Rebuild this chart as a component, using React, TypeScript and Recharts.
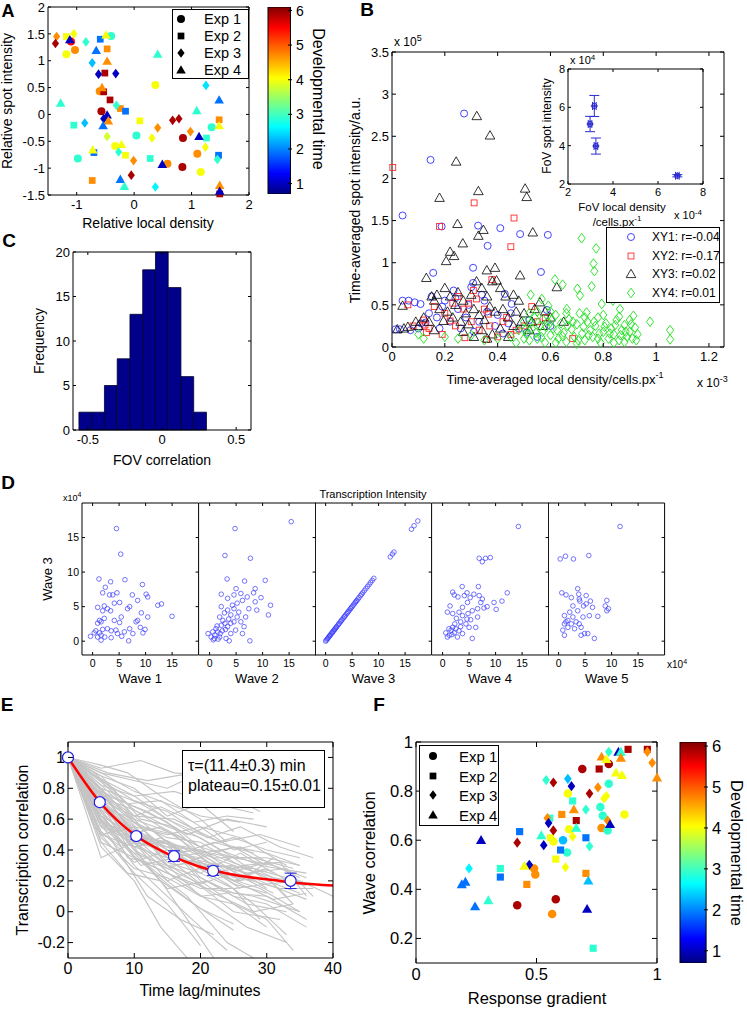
import React from "react";
import { ComposedChart, Scatter, Line, Bar, XAxis, YAxis, ErrorBar } from "recharts";

const FONT = '"Liberation Sans", Arial, Helvetica, sans-serif';
const GAP = 3;

// ─── Colour scale (jet) ──────────────────────────────────────────────────────
const C_MIN = 0.7;
const C_MAX = 6.1;
const CBAR_TICKS = [1, 2, 3, 4, 5, 6];
const JET_STOPS: [number, string][] = [
  [0, "#000080"],
  [0.11, "#0000ff"],
  [0.36, "#00ffff"],
  [0.62, "#ffff00"],
  [0.89, "#ff0000"],
  [1, "#800000"],
];

// ─── Panel A: [relative density, relative intensity, developmental time] ────
const A_X_TICKS = [-1, 0, 1, 2];
const A_Y_TICKS = [-1.5, -1, -0.5, 0, 0.5, 1, 1.5, 2];
const A_EXP1 = [
  [-1.1, 1.36, 5.5], [-1.03, 1.2, 4.7], [-1.18, 1.12, 4.0], [-0.4, 1.46, 2.9], [-0.6, 0.43, 4.7],
  [-0.57, 0.06, 5.9], [0.04, -0.39, 2.9], [0.37, 0.55, 4.0], [0.85, -0.44, 5.9], [1.35, -0.24, 2.9],
  [-0.33, -0.59, 4.0], [-0.98, -0.82, 2.9], [0.58, -0.92, 4.7], [0.84, -0.98, 5.9], [1.1, -0.73, 4.7],
  [1.16, -1.07, 4.0],
];
const A_EXP2 = [
  [-1.18, 1.45, 4.0], [-0.59, 1.4, 1.9], [-0.47, 1.22, 4.7], [-0.51, 0.77, 5.9], [-0.53, 0.42, 5.9],
  [-0.42, 0.27, 5.9], [-0.24, 0.11, 4.7], [-0.15, 0.06, 1.9], [-1.05, -0.2, 2.9], [0.1, -0.12, 4.0],
  [1.48, -0.1, 4.7], [1.26, -0.44, 2.9], [-0.7, -0.71, 1.9], [-0.15, -0.76, 4.0], [0.28, -0.82, 2.9],
  [1.47, -0.76, 1.9], [-0.73, -1.23, 4.7], [1.49, -1.48, 5.9],
];
const A_EXP3 = [
  [-1.35, 1.45, 4.7], [-1.37, 1.32, 5.9], [-1.05, 1.5, 4.0], [-0.84, 1.35, 2.9], [-0.73, 0.96, 2.3],
  [-0.62, 0.75, 1.0], [-0.32, 0.76, 1.0], [-0.31, 0.17, 2.9], [-0.53, -0.08, 1.0], [-0.86, -0.16, 2.3],
  [-0.47, -0.41, 3.8], [1.25, 0.54, 2.5], [0.67, -0.11, 5.9], [0.78, -0.08, 5.9], [0.41, -0.25, 4.7],
  [0.98, -0.32, 4.7], [0.31, -0.44, 4.0], [1.24, -0.61, 4.0], [-0.27, -0.7, 2.9], [-0.01, -0.86, 4.7],
  [1.45, -0.84, 2.9], [-0.05, -1.13, 5.9], [0.37, -1.35, 2.6],
];
const A_EXP4 = [
  [-1.12, 1.39, 1.0], [-0.49, 1.48, 4.0], [-0.66, 1.19, 1.9], [-0.47, 0.99, 4.7], [-0.56, 0.5, 4.7],
  [-1.28, 0.21, 2.9], [-0.47, -0.01, 1.0], [-0.45, -0.12, 4.7], [-0.54, -0.21, 1.9], [0.41, 1.12, 2.9],
  [1.09, 0.07, 2.9], [1.48, 0.27, 1.9], [1.13, -0.41, 1.0], [1.48, -0.21, 4.0], [-0.22, -0.56, 4.0],
  [-0.72, -0.66, 4.0], [0.49, -0.93, 1.0], [-0.24, -1.21, 1.9], [-0.17, -1.34, 2.9], [1.49, -1.32, 4.7],
  [1.49, -1.43, 1.0],
];

// ─── Panel B: [local density x1e-3, spot intensity x1e5] ────────────────────
const B_X_TICKS = [0, 0.2, 0.4, 0.6, 0.8, 1, 1.2];
const B_Y_TICKS = [0, 0.5, 1, 1.5, 2, 2.5, 3, 3.5];
const B_LEGEND = ["XY1: r=-0.04", "XY2: r=-0.17", "XY3: r=0.02", "XY4: r=0.01"];
const B_XY1 = [
  [0.273, 2.77], [0.146, 2.22], [0.04, 1.56], [0.326, 1.44], [0.41, 1.41], [0.485, 1.34], [0.59, 1.33],
  [0.362, 1.2], [0.188, 1.43], [0.307, 0.94], [0.564, 0.89], [0.156, 0.88], [0.04, 0.55], [0.063, 0.55],
  [0.086, 0.53], [0.108, 0.51], [0.013, 0.21], [0.03, 0.21], [0.15, 0.6], [0.127, 0.29], [0.11, 0.28],
  [0.586, 0.44], [0.453, 0.51], [0.427, 0.63], [0.307, 0.76], [0.42, 0.16], [0.51, 0.17], [0.233, 0.67],
  [0.3, 0.71], [0.2, 0.55], [0.25, 0.45], [0.28, 0.35], [0.33, 0.3], [0.36, 0.42], [0.39, 0.25],
  [0.18, 0.22], [0.22, 0.3], [0.14, 0.4], [0.17, 0.35], [0.26, 0.22], [0.31, 0.18], [0.35, 0.55],
  [0.4, 0.38], [0.44, 0.28], [0.48, 0.22], [0.52, 0.32], [0.55, 0.12], [0.24, 0.58], [0.19, 0.48],
  [0.1, 0.22], [0.07, 0.2], [0.34, 0.62], [0.29, 0.5], [0.45, 0.4], [0.6, 0.25],
];
const B_XY2 = [
  [0.003, 2.13], [0.18, 1.43], [0.311, 1.71], [0.462, 1.53], [0.45, 1.19], [0.378, 0.8], [0.529, 0.48],
  [0.684, 0.1], [0.308, 0.67], [0.32, 0.57], [0.365, 0.39], [0.276, 0.11], [0.358, 0.09], [0.434, 0.35],
  [0.22, 0.31], [0.55, 0.3], [0.12, 0.32], [0.125, 0.26], [0.13, 0.17], [0.16, 0.48], [0.2, 0.4],
  [0.24, 0.25], [0.27, 0.45], [0.3, 0.3], [0.33, 0.2], [0.37, 0.25], [0.4, 0.12], [0.42, 0.3],
  [0.47, 0.2], [0.5, 0.25], [0.25, 0.6], [0.29, 0.52], [0.14, 0.22], [0.19, 0.15], [0.23, 0.52],
  [0.35, 0.45], [0.08, 0.25], [0.45, 0.15], [0.58, 0.35], [0.06, 0.5],
];
const B_XY3 = [
  [0.321, 2.74], [0.371, 2.51], [0.243, 2.2], [0.327, 1.85], [0.504, 1.88], [0.51, 1.78], [0.18, 1.77],
  [0.248, 1.46], [0.346, 1.39], [0.327, 1.32], [0.533, 1.36], [0.268, 1.23], [0.22, 1.13], [0.235, 1.08],
  [0.205, 1.02], [0.39, 0.94], [0.485, 0.85], [0.624, 0.71], [0.396, 0.79], [0.359, 0.91], [0.195, 0.31],
  [0.56, 0.53], [0.13, 0.82], [0.04, 0.49], [0.02, 0.21], [0.045, 0.22], [0.1, 0.25], [0.15, 0.6],
  [0.16, 0.55], [0.17, 0.62], [0.2, 0.7], [0.22, 0.6], [0.25, 0.65], [0.27, 0.55], [0.3, 0.62],
  [0.32, 0.78], [0.34, 0.7], [0.36, 0.6], [0.38, 0.78], [0.41, 0.7], [0.43, 0.6], [0.46, 0.62],
  [0.48, 0.55], [0.5, 0.4], [0.53, 0.3], [0.57, 0.25], [0.6, 0.35], [0.21, 0.42], [0.23, 0.35],
  [0.26, 0.3], [0.28, 0.4], [0.31, 0.45], [0.33, 0.38], [0.35, 0.32], [0.37, 0.48], [0.39, 0.42],
  [0.42, 0.45], [0.44, 0.35], [0.47, 0.42], [0.49, 0.3], [0.12, 0.35], [0.14, 0.3], [0.18, 0.45],
  [0.24, 0.5], [0.29, 0.27], [0.34, 0.2], [0.38, 0.15], [0.41, 0.22], [0.46, 0.25], [0.52, 0.2],
  [0.06, 0.24], [0.09, 0.3], [0.16, 0.2], [0.27, 0.18], [0.31, 0.12], [0.36, 0.1], [0.44, 0.12],
  [0.54, 0.45], [0.58, 0.42], [0.65, 0.3],
];
const B_XY4 = [
  [0.718, 1.29], [0.773, 1.17], [0.763, 0.99], [0.766, 0.9], [0.617, 0.8], [0.646, 0.74], [0.756, 0.72],
  [0.702, 0.69], [0.712, 0.61], [0.794, 0.51], [0.836, 0.55], [0.863, 0.45], [0.914, 0.37], [0.977, 0.3],
  [1.053, 0.2], [1.053, 0.09], [0.525, 0.62], [0.567, 0.57], [0.592, 0.49], [0.662, 0.45], [0.737, 0.41],
  [0.1, 0.15], [0.12, 0.1], [0.2, 0.12], [0.25, 0.1], [0.3, 0.14], [0.35, 0.08], [0.4, 0.1], [0.45, 0.12],
  [0.48, 0.2], [0.5, 0.3], [0.51, 0.15], [0.52, 0.08], [0.53, 0.22], [0.54, 0.35], [0.55, 0.1],
  [0.56, 0.25], [0.57, 0.18], [0.58, 0.05], [0.59, 0.3], [0.6, 0.14], [0.61, 0.22], [0.62, 0.38],
  [0.63, 0.1], [0.64, 0.28], [0.65, 0.17], [0.66, 0.06], [0.67, 0.33], [0.68, 0.21], [0.69, 0.12],
  [0.7, 0.27], [0.71, 0.4], [0.72, 0.16], [0.73, 0.08], [0.74, 0.3], [0.75, 0.2], [0.76, 0.12],
  [0.77, 0.25], [0.78, 0.35], [0.79, 0.05], [0.8, 0.18], [0.81, 0.28], [0.82, 0.1], [0.83, 0.22],
  [0.84, 0.15], [0.85, 0.32], [0.86, 0.08], [0.87, 0.2], [0.88, 0.26], [0.89, 0.12], [0.9, 0.18],
  [0.91, 0.1], [0.92, 0.23], [0.93, 0.15], [0.505, 0.2], [0.525, 0.28], [0.545, 0.17], [0.565, 0.12],
  [0.585, 0.24], [0.605, 0.32], [0.625, 0.2], [0.645, 0.13], [0.665, 0.25], [0.685, 0.3], [0.705, 0.08],
  [0.725, 0.24], [0.745, 0.14], [0.765, 0.3], [0.785, 0.16], [0.805, 0.24], [0.825, 0.16], [0.845, 0.26],
  [0.865, 0.14], [0.885, 0.18], [0.905, 0.27], [0.925, 0.08], [0.62, 0.05], [0.7, 0.04], [0.78, 0.1],
  [0.84, 0.05], [0.88, 0.06], [0.6, 0.42], [0.66, 0.4], [0.73, 0.35], [0.8, 0.38], [0.86, 0.36],
  [0.9, 0.32], [0.55, 0.42], [0.5, 0.1], [0.47, 0.05], [0.52, 0.4], [0.57, 0.33],
];
// inset: [density x1e-4, intensity x1e4, x error, y error]
const B_INSET_TICKS = [2, 4, 6, 8];
const B_INSET = [
  [2.98, 5.13, 0.08, 0.4],
  [3.17, 6.07, 0.08, 0.55],
  [3.24, 3.98, 0.08, 0.42],
  [6.86, 2.43, 0.08, 0.06],
];

// ─── Panel C: histogram of FOV correlation ──────────────────────────────────
const C_X_TICKS = [-0.5, 0, 0.5];
const C_Y_TICKS = [0, 5, 10, 15, 20];
const C_BIN_WIDTH = 0.086;
const C_BIN_CENTERS = [-0.517, -0.431, -0.345, -0.259, -0.173, -0.087, -0.001, 0.085, 0.171, 0.257];
const C_COUNTS = [2, 2, 5, 8, 13, 18, 20, 16, 6, 2];

// ─── Panel D: [wave n, wave 3] intensities x1e4 ─────────────────────────────
const D_TICKS = [0, 5, 10, 15];
const D_W1 = [
  [4.5, 16.3], [5.3, 12.6], [15, 3.6], [1.2, 9.0], [3.4, 8.6], [6.1, 8.9], [9.4, 8.2], [2.4, 7.8],
  [1.9, 7.0], [4.6, 7.0], [3.2, 6.7], [3.8, 6.7], [7.5, 6.7], [0.95, 4.9], [2.2, 5.1], [2.8, 4.7],
  [4.1, 5.5], [1.9, 4.4], [3.4, 4.4], [5.1, 5.6], [6.6, 4.7], [7.0, 5.0], [8.5, 5.9], [10.1, 6.8],
  [10.4, 6.4], [12.3, 5.2], [13.0, 5.4], [9.2, 4.1], [10.4, 3.5], [8.5, 3.0], [8.2, 2.8], [9.0, 2.0],
  [9.9, 1.7], [9.5, 1.2], [1.3, 3.0], [1.6, 2.8], [0.95, 2.6], [2.2, 3.3], [4.1, 3.0], [5.1, 2.7],
  [5.4, 3.5], [0.6, 1.5], [1.3, 1.2], [1.9, 1.7], [2.8, 1.8], [3.5, 1.5], [4.4, 1.6], [4.7, 1.1],
  [6.0, 1.35], [7.0, 1.8], [7.6, 1.1], [-0.4, 0.7], [0.3, 1.2], [0.95, 0.6], [1.6, 0.15], [1.6, 0.87],
  [2.3, 0.6], [3.5, 0.5], [6.8, 0.05], [5.5, 0.7],
];
const D_W2 = [
  [15.4, 17.3], [4.8, 16.3], [2.9, 12.4], [7.7, 12.0], [3.3, 9.0], [6.6, 8.7], [10.5, 8.8], [5.0, 7.6],
  [8.6, 7.6], [2.2, 6.8], [3.4, 6.2], [4.6, 6.7], [5.9, 6.9], [7.1, 6.4], [8.3, 7.0], [9.7, 6.3],
  [11.5, 5.2], [11.1, 3.8], [7.6, 0.05], [3.7, 0.05], [0.9, 0.4], [-0.3, 1.1], [0.3, 0.6], [1.5, 1.35],
  [2.2, 2.3], [2.5, 3.0], [2.8, 4.1], [4.0, 3.8], [4.6, 4.7], [5.2, 5.5], [6.2, 5.9], [7.4, 4.7],
  [8.9, 4.5], [8.6, 5.7], [5.9, 2.8], [6.5, 2.1], [6.2, 1.1], [4.9, 1.6], [4.0, 1.1], [3.4, 2.1],
  [3.1, 0.4], [1.9, 0.6], [1.2, 1.8], [0.6, 1.35], [4.6, 2.8], [5.2, 3.5], [4.0, 2.6], [6.8, 3.5],
  [1.9, 3.5], [2.2, 5.0], [3.4, 4.5], [1.0, 0.9], [1.6, 0.3], [2.4, 1.5], [2.9, 2.6], [3.6, 3.2],
  [4.3, 5.2], [5.5, 4.2], [1.4, 2.2], [2.0, 1.1], [3.0, 1.7], [0.7, 0.2],
];
const D_W3_LINE = [
  0, 0.15, 0.3, 0.4, 0.55, 0.7, 0.8, 0.9, 1.05, 1.2, 1.3, 1.45, 1.6, 1.7, 1.85, 2.0, 2.1, 2.3, 2.45,
  2.6, 2.8, 2.95, 3.1, 3.3, 3.5, 3.6, 3.8, 4.0, 4.15, 4.3, 4.5, 4.7, 4.85, 5.0, 5.2, 5.4, 5.6, 5.75,
  5.9, 6.1, 6.3, 6.6, 6.8, 7.0, 7.3, 7.6, 7.9, 8.2, 8.5, 8.8, 9.1, 12.2, 12.6, 12.9, 16.2, 16.7, 17.4,
];
const D_W4 = [
  [14.3, 16.6], [6.9, 12.0], [7.5, 11.5], [8.1, 12.0], [9.0, 12.1], [6.75, 7.9], [3.7, 7.9], [1.9, 7.1],
  [12.2, 7.0], [11.2, 5.8], [10.1, 4.6], [2.2, 6.7], [2.9, 6.4], [4.1, 6.6], [4.6, 7.0], [5.2, 6.3],
  [5.9, 6.8], [6.9, 6.6], [7.5, 6.1], [8.4, 5.0], [9.7, 5.6], [1.4, 5.1], [0.9, 4.2], [1.9, 4.0],
  [3.1, 4.2], [3.75, 3.7], [4.8, 4.0], [5.6, 4.4], [6.6, 4.7], [7.8, 4.8], [6.6, 3.5], [5.3, 3.1],
  [4.4, 2.5], [3.4, 2.8], [2.3, 2.5], [1.9, 2.0], [1.6, 1.6], [0.6, 1.2], [1.25, 0.86], [2.2, 1.2],
  [3.1, 1.5], [3.75, 1.1], [5.6, 0.4], [5.0, 2.0], [6.25, 2.0], [2.8, 0.6], [0.9, 0.6], [1.75, 0.95],
  [2.5, 1.8], [3.4, 2.1], [4.6, 3.2], [7.2, 5.6], [4.7, 5.6], [3.75, 4.9], [1.2, 1.8], [2.6, 3.3],
];
const D_W5 = [
  [11.6, 16.6], [0.3, 11.9], [1.3, 12.3], [2.8, 11.9], [5.7, 12.4], [0.6, 7.0], [3.6, 7.6], [4.0, 5.8],
  [6.0, 5.8], [8.8, 5.1], [9.1, 4.4], [1.1, 3.7], [1.4, 2.8], [1.1, 2.5], [1.75, 2.0], [1.1, 0.86],
  [2.1, 4.2], [2.7, 5.1], [2.7, 3.5], [3.3, 2.8], [3.6, 4.4], [3.9, 6.1], [4.25, 2.0], [4.6, 3.5],
  [4.7, 5.1], [5.2, 6.6], [5.5, 1.1], [4.9, 1.1], [4.25, 0.86], [6.75, 0.4], [5.8, 3.7], [6.4, 4.9],
  [7.4, 3.6], [9.1, 5.9], [9.4, 4.7], [2.4, 6.3], [1.4, 6.7], [3.8, 6.8], [1.75, 3.0], [2.4, 2.5],
  [3.0, 1.8], [3.9, 2.5], [5.2, 5.4], [0.8, 1.6],
];

// ─── Panel E: transcription correlation vs time lag ─────────────────────────
const E_X_TICKS = [0, 10, 20, 30, 40];
const E_Y_TICKS = [-0.2, 0, 0.2, 0.4, 0.6, 0.8, 1];
const E_TRACES = [
  [[0, 1], [5, 0.93], [11, 0.98], [16, 0.9], [22, 0.88]],
  [[0, 1], [6, 0.9], [12, 0.85], [19, 0.9], [27, 0.92]],
  [[0, 1], [5, 0.82], [10, 0.75], [16, 0.78], [22, 0.7], [28, 0.64]],
  [[0, 1], [4, 0.75], [9, 0.55], [14, 0.45], [19, 0.4], [25, 0.35], [31, 0.3]],
  [[0, 1], [5, 0.6], [10, 0.3], [15, 0.1], [20, -0.1], [24, -0.25]],
  [[0, 1], [5, 0.7], [11, 0.55], [16, 0.5], [21, 0.32], [27, 0.25], [33, 0.28], [37, 0.1]],
  [[0, 1], [5, 0.5], [10, 0.25], [15, 0.05], [20, -0.22]],
  [[0, 1], [5, 0.85], [10, 0.62], [16, 0.6], [23, 0.45], [29, 0.5], [35, 0.42]],
  [[0, 1], [5, 0.65], [9, 0.35], [14, 0.3], [19, 0.2], [25, 0.0], [32, -0.05]],
  [[0, 1], [6, 0.75], [12, 0.65], [18, 0.5], [24, 0.6], [30, 0.55]],
  [[0, 1], [5, 0.45], [10, 0.35], [15, 0.25], [21, 0.15], [28, 0.1], [35, 0.0]],
  [[0, 1], [4, 0.9], [9, 0.7], [14, 0.72], [20, 0.55], [26, 0.48], [33, 0.3]],
  [[0, 1], [5, 0.78], [10, 0.5], [15, 0.42], [20, 0.28], [26, 0.22], [32, 0.15], [37, 0.15]],
  [[0, 1], [5, 0.55], [10, 0.45], [16, 0.22], [22, 0.05], [27, -0.1], [33, -0.2]],
  [[0, 1], [5, 0.68], [10, 0.6], [15, 0.35], [20, 0.38], [26, 0.2], [31, 0.35]],
  [[0, 1], [5, 0.8], [11, 0.7], [17, 0.55], [23, 0.4], [29, 0.3], [36, 0.25]],
  [[0, 1], [5, 0.35], [10, 0.45], [15, 0.2], [21, 0.3], [26, 0.15]],
  [[0, 1], [5, 0.72], [10, 0.4], [14, 0.2], [18, -0.05], [22, -0.3]],
  [[0, 1], [5, 0.88], [10, 0.8], [15, 0.62], [20, 0.7], [25, 0.52]],
  [[0, 1], [4, 0.6], [9, 0.5], [14, 0.55], [20, 0.42], [25, 0.35], [30, 0.2], [35, 0.12]],
  [[0, 1], [5, 0.75], [10, 0.58], [15, 0.48], [20, 0.45], [25, 0.32], [30, 0.22], [34, 0.05]],
  [[0, 1], [5, 0.62], [10, 0.42], [15, 0.35], [20, 0.18], [25, 0.25], [31, 0.12]],
  [[0, 1], [6, 0.5], [12, 0.1], [17, -0.05], [22, -0.15]],
  [[0, 1], [5, 0.9], [10, 0.85], [15, 0.8], [19, 0.88], [24, 0.75], [29, 0.65]],
  [[0, 1], [5, 0.66], [10, 0.52], [15, 0.4], [20, 0.33], [25, 0.28], [30, 0.18], [35, 0.2], [40, 0.1]],
  [[0, 1], [5, 0.8], [10, 0.48], [15, 0.3], [20, 0.1], [25, 0.05], [30, -0.1]],
  [[0, 1], [5, 0.58], [10, 0.38], [15, 0.15], [21, 0.2], [27, 0.05], [33, 0.0]],
  [[0, 1], [4, 0.55], [8, 0.42], [12, 0.55], [17, 0.38], [22, 0.45], [28, 0.38]],
  [[0, 1], [5, 0.72], [10, 0.62], [16, 0.42], [22, 0.25], [27, 0.3], [32, 0.2], [36, 0.17]],
  [[0, 1], [5, 0.42], [10, 0.2], [14, -0.1], [18, -0.3]],
  [[0, 1], [5, 0.85], [10, 0.72], [15, 0.65], [21, 0.48], [26, 0.55], [32, 0.42], [37, 0.35]],
  [[0, 1], [5, 0.74], [10, 0.44], [15, 0.46], [20, 0.22], [25, 0.12], [30, 0.1], [36, -0.05]],
  [[0, 1], [5, 0.6], [11, 0.3], [16, 0.35], [22, 0.3], [28, 0.28], [33, 0.22]],
  [[0, 1], [5, 0.7], [10, 0.55], [15, 0.5], [20, 0.55], [25, 0.4], [30, 0.45]],
  [[0, 1], [4, 0.8], [9, 0.65], [14, 0.4], [19, 0.3], [24, 0.18], [28, 0.05], [33, -0.15]],
  [[0, 1], [5, 0.5], [10, 0.55], [15, 0.32], [20, 0.25], [26, 0.38], [31, 0.25]],
  [[0, 1], [5, 0.95], [9, 0.9], [14, 0.75], [20, 0.6], [24, 0.45]],
  [[0, 1], [6, 0.65], [12, 0.3], [18, 0.1], [24, -0.2], [28, -0.3]],
  [[0, 1], [5, 0.78], [10, 0.68], [15, 0.58], [20, 0.38], [26, 0.42], [31, 0.3], [36, 0.22]],
  [[0, 1], [5, 0.55], [10, 0.38], [16, 0.28], [22, 0.12], [28, 0.0], [34, 0.05]],
  [[0, 1], [5, 0.68], [10, 0.46], [15, 0.38], [20, 0.4], [26, 0.3], [32, 0.32], [36, 0.1]],
  [[0, 1], [5, 0.82], [10, 0.62], [14, 0.68], [19, 0.58], [24, 0.62], [28, 0.6]],
  [[0, 1], [5, 0.45], [9, 0.25], [14, 0.2], [19, 0.05], [25, -0.12]],
  [[0, 1], [5, 0.62], [10, 0.5], [15, 0.45], [20, 0.3], [26, 0.18], [31, 0.08], [36, 0.12]],
  [[0, 1], [5, 0.76], [10, 0.52], [15, 0.35], [20, 0.32], [25, 0.2], [30, 0.28], [34, 0.18]],
  [[0, 1], [5, 0.7], [10, 0.35], [15, 0.25], [20, 0.15], [25, 0.15], [29, -0.05]],
  [[0, 1], [5, 0.88], [11, 0.6], [16, 0.55], [22, 0.35], [28, 0.35], [34, 0.28]],
  [[0, 1], [5, 0.6], [10, 0.42], [14, 0.48], [19, 0.35], [24, 0.22], [29, 0.15], [35, 0.0]],
  [[0, 1], [5, 0.74], [10, 0.66], [15, 0.55], [20, 0.48], [25, 0.35], [30, 0.35], [35, 0.3]],
  [[0, 1], [5, 0.52], [10, 0.32], [15, 0.4], [20, 0.28], [25, 0.3], [30, 0.15]],
  [[0, 1], [5, 0.9], [10, 0.78], [15, 0.7], [20, 0.62], [26, 0.58]],
  [[0, 1], [5, 0.64], [10, 0.45], [15, 0.3], [20, 0.22], [25, 0.1], [30, 0.05], [36, -0.1]],
  [[0, 1], [5, 0.58], [10, 0.5], [15, 0.38], [20, 0.35], [25, 0.42], [30, 0.3]],
  [[0, 1], [5, 0.76], [10, 0.6], [15, 0.52], [20, 0.38], [25, 0.3], [31, 0.22], [37, 0.18]],
  [[0, 1], [5, 0.66], [10, 0.4], [15, 0.28], [20, 0.35], [25, 0.22], [30, 0.28]],
  [[0, 1], [5, 0.84], [10, 0.66], [15, 0.52], [20, 0.42], [25, 0.48], [30, 0.4], [35, 0.35]],
  [[0, 1], [5, 0.48], [10, 0.28], [15, 0.22], [20, 0.1], [24, 0.12]],
  [[0, 1], [5, 0.7], [10, 0.5], [15, 0.44], [20, 0.2], [25, 0.05], [30, -0.05], [34, -0.25]],
  [[0, 1], [5, 0.8], [10, 0.58], [15, 0.4], [20, 0.25], [25, 0.15], [30, 0.18], [36, 0.08]],
  [[0, 1], [5, 0.56], [10, 0.47], [15, 0.42], [20, 0.4], [25, 0.26], [30, 0.32], [35, 0.22]],
  [[0, 1], [4, 0.7], [8, 0.6], [13, 0.45], [18, 0.42], [23, 0.3], [28, 0.2]],
  [[0, 1], [5, 0.62], [10, 0.36], [15, 0.18], [20, 0.02], [25, -0.08]],
  [[0, 1], [5, 0.86], [10, 0.75], [15, 0.6], [20, 0.5], [25, 0.42], [30, 0.38], [35, 0.3]],
  [[0, 1], [5, 0.72], [10, 0.56], [15, 0.3], [20, 0.32], [25, 0.18], [30, 0.12]],
  [[0, 1], [5, 0.5], [10, 0.42], [15, 0.46], [20, 0.36], [25, 0.2], [30, 0.22], [33, 0.1]],
];
const E_FIT = [[0, 1], [5, 0.7], [10, 0.5], [15, 0.375], [20, 0.29], [25, 0.24], [30, 0.21], [35, 0.185], [40, 0.17]];
// [lag, mean correlation, error]
const E_MEAN = [[0, 1, 0.01], [4.8, 0.71, 0.015], [10.3, 0.49, 0.02], [16, 0.36, 0.035], [21.9, 0.265, 0.03], [33.6, 0.2, 0.05]];

// ─── Panel F: [response gradient, wave correlation, developmental time] ─────
const F_X_TICKS = [0, 0.5, 1];
const F_Y_TICKS = [0.2, 0.4, 0.6, 0.8, 1];
const F_EXP1 = [
  [0.8, 0.91, 5.9], [0.69, 0.89, 5.9], [0.8, 0.83, 2.9], [0.63, 0.79, 4.0], [0.765, 0.735, 2.9],
  [0.865, 0.705, 4.0], [0.775, 0.7, 2.9], [0.635, 0.645, 4.0], [0.77, 0.65, 4.7], [0.795, 0.64, 2.9],
  [0.57, 0.595, 4.0], [0.61, 0.6, 2.3], [0.627, 0.55, 2.9], [0.49, 0.485, 4.7], [0.495, 0.46, 4.7],
  [0.58, 0.36, 5.9], [0.42, 0.335, 5.9], [0.565, 0.3, 4.7],
];
const F_EXP2 = [
  [0.88, 0.97, 5.9], [0.96, 0.97, 5.9], [0.76, 0.89, 5.9], [0.65, 0.76, 2.9], [0.605, 0.705, 4.7],
  [0.555, 0.69, 2.9], [0.665, 0.68, 5.9], [0.558, 0.61, 4.0], [0.705, 0.61, 1.9], [0.43, 0.635, 1.9],
  [0.6, 0.56, 1.9], [0.58, 0.523, 4.0], [0.35, 0.485, 2.9], [0.705, 0.465, 4.7], [0.35, 0.45, 1.9],
  [0.46, 0.42, 4.7], [0.735, 0.16, 2.9],
];
const F_EXP3 = [
  [0.8, 0.96, 2.9], [0.96, 0.96, 4.7], [0.98, 0.915, 4.7], [0.54, 0.845, 2.9], [0.63, 0.85, 2.3],
  [0.57, 0.835, 5.9], [0.645, 0.82, 1.0], [0.755, 0.815, 4.7], [0.72, 0.79, 5.9], [0.78, 0.77, 4.0],
  [0.79, 0.78, 4.0], [0.705, 0.725, 2.9], [0.545, 0.69, 4.7], [0.55, 0.67, 1.0], [0.795, 0.68, 4.7],
  [0.57, 0.64, 5.9], [0.65, 0.615, 4.0], [0.42, 0.59, 5.9], [0.53, 0.58, 1.0], [0.72, 0.575, 2.9],
  [0.47, 0.5, 1.0], [0.62, 0.49, 4.0], [0.22, 0.485, 2.6],
];
const F_EXP4 = [
  [0.84, 0.96, 1.0], [0.85, 0.96, 2.9], [0.77, 0.94, 4.7], [0.79, 0.93, 4.0], [0.85, 0.935, 4.7],
  [0.83, 0.875, 4.0], [0.855, 0.865, 4.0], [1.0, 0.855, 4.7], [0.655, 0.725, 4.7], [0.805, 0.665, 1.0],
  [0.665, 0.65, 2.9], [0.52, 0.62, 2.9], [0.27, 0.6, 1.0], [0.45, 0.495, 4.0], [0.715, 0.435, 2.3],
  [0.19, 0.42, 1.9], [0.205, 0.43, 1.9], [0.3, 0.355, 2.9], [0.245, 0.33, 1.9], [0.71, 0.32, 1.0],
];
const EXP_LABELS = ["Exp 1", "Exp 2", "Exp 3", "Exp 4"];

// ─── helpers ─────────────────────────────────────────────────────────────────
function hexRgb(h: string) {
  return [1, 3, 5].map((i) => parseInt(h.slice(i, i + 2), 16));
}
function jet(v: number) {
  const t = Math.max(0, Math.min(1, (v - C_MIN) / (C_MAX - C_MIN)));
  for (let i = 1; i < JET_STOPS.length; i++) {
    const [t0, c0] = JET_STOPS[i - 1];
    const [t1, c1] = JET_STOPS[i];
    if (t <= t1) {
      const f = (t - t0) / (t1 - t0);
      const a = hexRgb(c0);
      const b = hexRgb(c1);
      const m = a.map((q, k) => Math.round(q + (b[k] - q) * f));
      return `rgb(${m[0]},${m[1]},${m[2]})`;
    }
  }
  return JET_STOPS[JET_STOPS.length - 1][1];
}
const xy = (rows: number[][]) => rows.map(([x, y]) => ({ x, y }));
const xyc = (rows: number[][]) => rows.map(([x, y, c]) => ({ x, y, c }));

type Kind = "circle" | "square" | "diamond" | "triangle";
const KINDS: Kind[] = ["circle", "square", "diamond", "triangle"];

function Mark({ kind, cx, cy, s, fill = "none", stroke = "none", sw = 1 }: any) {
  const common = { fill, stroke, strokeWidth: sw };
  if (kind === "circle") return <circle cx={cx} cy={cy} r={s / 2} {...common} />;
  if (kind === "square")
    return <rect x={cx - s * 0.42} y={cy - s * 0.42} width={s * 0.84} height={s * 0.84} {...common} />;
  if (kind === "diamond")
    return (
      <polygon
        points={`${cx},${cy - s * 0.6} ${cx + s * 0.45},${cy} ${cx},${cy + s * 0.6} ${cx - s * 0.45},${cy}`}
        {...common}
      />
    );
  return (
    <polygon
      points={`${cx},${cy - s * 0.6} ${cx + s * 0.6},${cy + s * 0.45} ${cx - s * 0.6},${cy + s * 0.45}`}
      {...common}
    />
  );
}

type Side = "bottom" | "top" | "left" | "right";
function tickFn(side: Side, fs: number, show: boolean, len = 4) {
  return (p: any) => {
    const { x, y, payload } = p;
    const txt = show && payload ? String(payload.value) : null;
    const tp = { fontSize: fs, fontFamily: FONT, fill: "#000" };
    if (side === "bottom")
      return (
        <g>
          <line x1={x} x2={x} y1={y - GAP} y2={y - GAP - len} stroke="#000" />
          {txt && <text x={x} y={y + fs * 0.82} textAnchor="middle" {...tp}>{txt}</text>}
        </g>
      );
    if (side === "top")
      return <line x1={x} x2={x} y1={y + GAP} y2={y + GAP + len} stroke="#000" />;
    if (side === "left")
      return (
        <g>
          <line x1={x + GAP} x2={x + GAP + len} y1={y} y2={y} stroke="#000" />
          {txt && <text x={x} y={y + fs * 0.36} textAnchor="end" {...tp}>{txt}</text>}
        </g>
      );
    return (
      <g>
        <line x1={x - GAP} x2={x - GAP - len} y1={y} y2={y} stroke="#000" />
        {txt && <text x={x + 1} y={y + fs * 0.36} textAnchor="start" {...tp}>{txt}</text>}
      </g>
    );
  };
}

// four axes forming the MATLAB-style box; top/right are 1px thick so they render
function frame(o: any) {
  const len = o.len ?? 4;
  const base = {
    type: "number" as const,
    tickSize: 0,
    tickMargin: GAP,
    tickLine: false,
    interval: 0 as const,
    axisLine: { stroke: "#000", strokeWidth: 1 },
  };
  return [
    <XAxis key="xb" xAxisId="b" orientation="bottom" dataKey="x" domain={o.xd} ticks={o.xt} height={o.xh}
      tick={tickFn("bottom", o.fs, o.xLab !== false, len)} {...base} />,
    <XAxis key="xt" xAxisId="t" orientation="top" dataKey="x" domain={o.xd} ticks={o.xt} height={1}
      allowDataOverflow tick={tickFn("top", o.fs, false, len)} {...base} />,
    <YAxis key="yl" yAxisId="l" orientation="left" dataKey="y" domain={o.yd} ticks={o.yt} width={o.yw}
      allowDataOverflow={!!o.clip} tick={tickFn("left", o.fs, o.yLab !== false, len)} {...base} />,
    <YAxis key="yr" yAxisId="r" orientation="right" dataKey="y" domain={o.yd} ticks={o.yt} width={1}
      allowDataOverflow tick={tickFn("right", o.fs, false, len)} {...base} />,
  ];
}

function Panel({ p, yw, xh, mt = 12, mr = 12, bg, data, children }: any) {
  return (
    <div style={{ position: "absolute", left: p.x - yw, top: p.y - mt - 1, background: bg }}>
      <ComposedChart width={yw + p.w + 1 + mr} height={mt + 1 + p.h + xh} data={data}
        margin={{ top: mt, right: mr, bottom: 0, left: 0 }}>
        {children}
      </ComposedChart>
    </div>
  );
}

function T({ x, y, s, rot = 0, bold = false, anchor = "middle", children }: any) {
  const tx = anchor === "middle" ? "-50%" : anchor === "end" ? "-100%" : "0%";
  return (
    <div style={{
      position: "absolute", left: x, top: y, transform: `translate(${tx}, -50%) rotate(${rot}deg)`,
      fontFamily: FONT, fontSize: s, fontWeight: bold ? 700 : 400, lineHeight: 1.1, whiteSpace: "nowrap", color: "#000",
    }}>
      {children}
    </div>
  );
}

function LegendBox({ x, y, w, h, fs, mx, tx, rows }: any) {
  return (
    <div style={{ position: "absolute", left: x, top: y, width: w, height: h, border: "1px solid #000",
      background: "#fff", boxSizing: "border-box" }}>
      {rows.map((r: any, i: number) => {
        const cy = ((h - 2) / rows.length) * (i + 0.5);
        return (
          <React.Fragment key={i}>
            <svg style={{ position: "absolute", left: mx - 7, top: cy - 7 }} width={14} height={14}>
              <Mark kind={r.kind} cx={7} cy={7} s={r.s} fill={r.fill} stroke={r.stroke} sw={r.sw} />
            </svg>
            <div style={{ position: "absolute", left: tx, top: cy, transform: "translateY(-50%)", fontSize: fs,
              fontFamily: FONT, whiteSpace: "nowrap", lineHeight: 1 }}>
              {r.label}
            </div>
          </React.Fragment>
        );
      })}
    </div>
  );
}

const CBAR = [{ k: "c", lo: C_MIN, hi: C_MAX }];
function ColorBar({ p, fs, id }: any) {
  return (
    <div style={{ position: "absolute", left: p.x, top: p.y - 10 }}>
      <ComposedChart width={p.w + 30} height={p.h + 20} data={CBAR} margin={{ top: 10, right: 0, bottom: 10, left: 0 }}>
        <defs>
          <linearGradient id={id} x1="0" y1="1" x2="0" y2="0">
            {JET_STOPS.map(([o, c]) => <stop key={o} offset={o} stopColor={c} />)}
          </linearGradient>
        </defs>
        <XAxis dataKey="k" type="category" hide />
        <YAxis orientation="right" width={30} type="number" domain={[C_MIN, C_MAX]} ticks={CBAR_TICKS}
          tickSize={0} tickMargin={GAP} tickLine={false} axisLine={false} interval={0} allowDataOverflow
          tick={tickFn("right", fs, true, 4)} />
        <Bar dataKey={(d: any) => [d.lo, d.hi]} fill={`url(#${id})`} stroke="#000" strokeWidth={1}
          barSize={p.w} isAnimationActive={false} />
      </ComposedChart>
    </div>
  );
}

function expScatters(sets: number[][][], s: number) {
  return sets.map((rows, i) => (
    <Scatter key={`e${i}`} data={xyc(rows)} xAxisId="b" yAxisId="l" isAnimationActive={false}
      shape={(p: any) => <Mark kind={KINDS[i]} cx={p.cx} cy={p.cy} s={s} fill={jet(p.payload.c)} />} />
  ));
}

// ─── geometry ────────────────────────────────────────────────────────────────
const A_PLOT = { x: 48, y: 7, w: 201, h: 188 };
const A_CBAR = { x: 267, y: 7, w: 25, h: 187 };
const B_PLOT = { x: 392, y: 52, w: 332, h: 295 };
const B_INSET_PLOT = { x: 568, y: 69, w: 135, h: 115 };
const C_PLOT = { x: 73, y: 252, w: 178, h: 178 };
const D_X0 = 82;
const D_W = 116.6;
const D_PLOT_Y = 503;
const D_PLOT_H = 152;
const E_PLOT = { x: 68, y: 742, w: 265, h: 216 };
const F_PLOT = { x: 416, y: 742, w: 241, h: 221 };
const F_CBAR = { x: 679, y: 742, w: 29, h: 221 };

const B_STYLES = [
  { kind: "circle", s: 7, stroke: "#3030ff", sw: 0.9 },
  { kind: "square", s: 7, stroke: "#ff2a2a", sw: 0.9 },
  { kind: "triangle", s: 8, stroke: "#000000", sw: 0.8 },
  { kind: "diamond", s: 8, stroke: "#1ee01e", sw: 0.9 },
];

export default function App() {
  const bSets = [B_XY1, B_XY2, B_XY3, B_XY4];
  const dSets = [D_W1, D_W2, D_W3_LINE.map((v) => [v, v]), D_W4, D_W5];
  const cData = C_BIN_CENTERS.map((x, i) => ({ x, y: C_COUNTS[i] }));
  const cBarPx = (C_BIN_WIDTH / 1.2) * C_PLOT.w - 0.05;
  const legendRows = (fill: string, s: number) =>
    KINDS.map((k, i) => ({ kind: k, s, fill, label: EXP_LABELS[i] }));

  return (
    <div style={{ position: "absolute", left: 0, top: 0, width: 747, height: 1009, background: "#fff",
      overflow: "hidden", fontFamily: FONT }}>
      {/* ── A ── */}
      <Panel p={A_PLOT} yw={48} xh={24}>
        {frame({ xd: [-1.5, 2], xt: A_X_TICKS, yd: [-1.5, 2], yt: A_Y_TICKS, fs: 13, yw: 48, xh: 24, len: 3 })}
        {expScatters([A_EXP1, A_EXP2, A_EXP3, A_EXP4], 8)}
      </Panel>
      <LegendBox x={172} y={9} w={77} h={70} fs={14.5} mx={8} tx={31} rows={legendRows("#000", 8)} />
      <ColorBar p={A_CBAR} fs={14} id="jetA" />
      <T x={8} y={12} s={18} bold anchor="middle">A</T>
      <T x={8} y={101} s={14} rot={-90}>Relative spot intensity</T>
      <T x={148} y={224} s={14}>Relative local density</T>
      <T x={318} y={99} s={16} rot={90}>Developmental time</T>

      {/* ── B ── */}
      <Panel p={B_PLOT} yw={40} xh={22}>
        {frame({ xd: [0, 1.257], xt: B_X_TICKS, yd: [0, 3.5], yt: B_Y_TICKS, fs: 13, yw: 40, xh: 22, len: 4 })}
        {bSets.map((rows, i) => {
          const st = B_STYLES[i];
          return (
            <Scatter key={`b${i}`} data={xy(rows)} xAxisId="b" yAxisId="l" isAnimationActive={false}
              shape={(p: any) => <Mark kind={st.kind} cx={p.cx} cy={p.cy} s={st.s} stroke={st.stroke} sw={st.sw} />} />
          );
        })}
      </Panel>
      <T x={367} y={10} s={19} bold>B</T>
      <T x={394} y={42} s={12} anchor="start">x 10<sup style={{ fontSize: 9 }}>5</sup></T>
      <T x={356} y={200} s={14} rot={-90}>Time-averaged spot intensity/a.u.</T>
      <T x={555} y={379} s={13}>Time-averaged local density/cells.px<sup style={{ fontSize: 9 }}>-1</sup></T>
      <T x={697} y={383} s={12} anchor="start">x 10<sup style={{ fontSize: 9 }}>-3</sup></T>
      <Panel p={B_INSET_PLOT} yw={14} xh={16} mt={8} mr={6} bg="#fff">
        {frame({ xd: [2, 8], xt: B_INSET_TICKS, yd: [2, 8], yt: B_INSET_TICKS, fs: 11, yw: 14, xh: 16, len: 3 })}
        <Scatter data={B_INSET.map(([x, y, ex, ey]) => ({ x, y, ex, ey }))} xAxisId="b" yAxisId="l"
          isAnimationActive={false}
          shape={(p: any) => (
            <g stroke="#2b2bd0" strokeWidth={1} fill="none">
              <circle cx={p.cx} cy={p.cy} r={2.6} />
              <line x1={p.cx - 3.5} x2={p.cx + 3.5} y1={p.cy} y2={p.cy} />
              <line x1={p.cx} x2={p.cx} y1={p.cy - 3.5} y2={p.cy + 3.5} />
            </g>
          )}>
          <ErrorBar dataKey="ey" direction="y" width={5} stroke="#2b2bd0" strokeWidth={1} />
          <ErrorBar dataKey="ex" direction="x" width={4} stroke="#2b2bd0" strokeWidth={1} />
        </Scatter>
      </Panel>
      <T x={570} y={60} s={11} anchor="start">x 10<sup style={{ fontSize: 8 }}>4</sup></T>
      <T x={548} y={126} s={12} rot={-90}>FoV spot intensity</T>
      <T x={622} y={207} s={11.5}>FoV local density</T>
      <T x={617} y={222} s={11.5}>/cells.px<sup style={{ fontSize: 8 }}>-1</sup></T>
      <T x={674} y={215} s={11} anchor="start">x 10<sup style={{ fontSize: 8 }}>-4</sup></T>
      <LegendBox x={606} y={227} w={114} h={76} fs={12} mx={24} tx={45}
        rows={B_LEGEND.map((label, i) => ({ ...B_STYLES[i], fill: "none", label }))} />

      {/* ── C ── */}
      <Panel p={C_PLOT} yw={30} xh={22} data={cData}>
        {frame({ xd: [-0.6, 0.6], xt: C_X_TICKS, yd: [0, 20], yt: C_Y_TICKS, fs: 13, yw: 30, xh: 22, len: 3 })}
        <Bar dataKey="y" xAxisId="b" yAxisId="l" fill="#00008b" stroke="#000030" strokeWidth={0.8}
          barSize={cBarPx} isAnimationActive={false} />
      </Panel>
      <T x={9} y={241} s={19} bold>C</T>
      <T x={40} y={341} s={14} rot={-90}>Frequency</T>
      <T x={162} y={461} s={14}>FOV correlation</T>

      {/* ── D ── */}
      <T x={8} y={483} s={19} bold>D</T>
      <T x={373} y={494} s={11}>Transcription Intensity</T>
      <T x={63} y={497} s={9} anchor="start">x10<sup style={{ fontSize: 7 }}>4</sup></T>
      <T x={48} y={579} s={13} rot={-90}>Wave 3</T>
      <T x={667} y={664} s={10} anchor="start">x10<sup style={{ fontSize: 7 }}>4</sup></T>
      {dSets.map((rows, i) => {
        const x0 = D_X0 + D_W * i;
        const yw = i === 0 ? 22 : 0;
        return (
          <React.Fragment key={`d${i}`}>
            <Panel p={{ x: x0, y: D_PLOT_Y, w: D_W, h: D_PLOT_H }} yw={yw} xh={18} mr={i === 4 ? 12 : 0}>
              {frame({ xd: [-2, 20], xt: D_TICKS, yd: [-2, 20], yt: D_TICKS, fs: 10.5, yw, xh: 18,
                yLab: i === 0, len: 3 })}
              <Scatter data={xy(rows)} xAxisId="b" yAxisId="l" isAnimationActive={false}
                shape={(p: any) => <circle cx={p.cx} cy={p.cy} r={2.3} fill="none" stroke="#3b3bff" strokeWidth={0.7} />} />
            </Panel>
            <T x={x0 + D_W / 2} y={679} s={13}>{`Wave ${i + 1}`}</T>
          </React.Fragment>
        );
      })}

      {/* ── E ── */}
      <Panel p={E_PLOT} yw={40} xh={26}>
        {frame({ xd: [0, 40], xt: E_X_TICKS, yd: [-0.3, 1.1], yt: E_Y_TICKS, fs: 16, yw: 40, xh: 26, clip: true, len: 5 })}
        {E_TRACES.map((tr, i) => (
          <Line key={`t${i}`} data={xy(tr)} dataKey="y" xAxisId="b" yAxisId="l" type="linear" stroke="#c4c4c4"
            strokeWidth={1.1} dot={false} activeDot={false} isAnimationActive={false} />
        ))}
        <Line data={xy(E_FIT)} dataKey="y" xAxisId="b" yAxisId="l" type="monotone" stroke="#ff0000" strokeWidth={2.5}
          dot={false} activeDot={false} isAnimationActive={false} />
        <Scatter data={E_MEAN.map(([x, y, e]) => ({ x, y, e }))} xAxisId="b" yAxisId="l" isAnimationActive={false}
          shape={(p: any) => <circle cx={p.cx} cy={p.cy} r={5.5} fill="#fff" stroke="#2424e0" strokeWidth={1.2} />}>
          <ErrorBar dataKey="e" direction="y" width={6} stroke="#2424e0" strokeWidth={1} />
        </Scatter>
      </Panel>
      <div style={{ position: "absolute", left: 182, top: 750, width: 143, height: 58, border: "1px solid #000",
        background: "#fff", boxSizing: "border-box" }} />
      <T x={188} y={766} s={16} anchor="start">τ=(11.4±0.3) min</T>
      <T x={188} y={786} s={16} anchor="start">plateau=0.15±0.01</T>
      <T x={7} y={705} s={19} bold>E</T>
      <T x={23} y={850} s={16} rot={-90}>Transcription correlation</T>
      <T x={200} y={991} s={16}>Time lag/minutes</T>

      {/* ── F ── */}
      <Panel p={F_PLOT} yw={46} xh={26}>
        {frame({ xd: [0, 1], xt: F_X_TICKS, yd: [0.1, 1], yt: F_Y_TICKS, fs: 16.5, yw: 46, xh: 26, len: 5 })}
        {expScatters([F_EXP1, F_EXP2, F_EXP3, F_EXP4], 8.5)}
      </Panel>
      <LegendBox x={419} y={745} w={80} h={81} fs={15} mx={13} tx={39} rows={legendRows("#000", 8)} />
      <ColorBar p={F_CBAR} fs={16.5} id="jetF" />
      <T x={379} y={705} s={19} bold>F</T>
      <T x={369} y={853} s={16.5} rot={-90}>Wave correlation</T>
      <T x={537} y={998} s={16.5}>Response gradient</T>
      <T x={737} y={853} s={16.5} rot={90}>Developmental time</T>
    </div>
  );
}
